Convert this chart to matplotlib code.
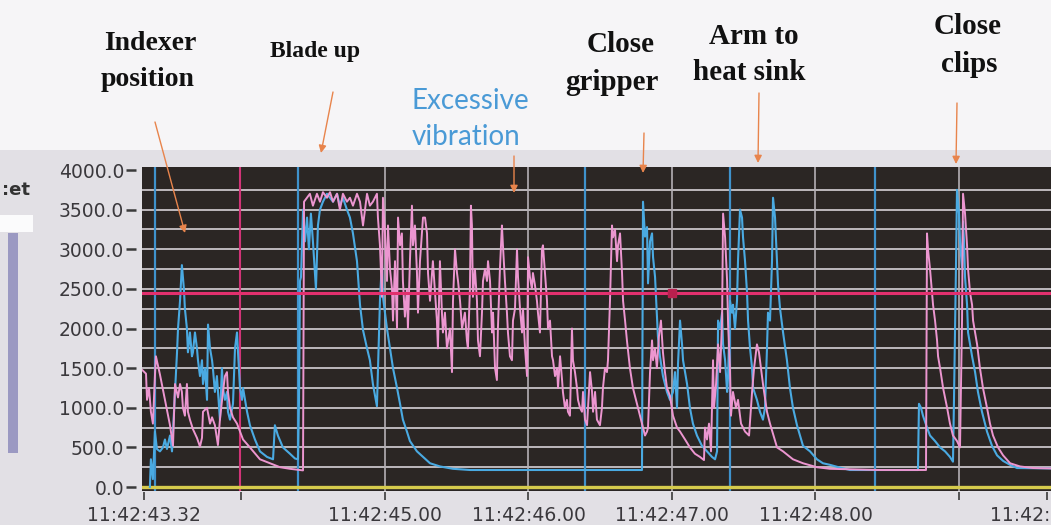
import numpy as np
import matplotlib
matplotlib.use("Agg")
import matplotlib.pyplot as plt
from matplotlib.patches import Rectangle

# pink trace (seconds after 11:42:00, value)
pink_t = [43.307, 43.335, 43.342, 43.356, 43.369, 43.383, 43.397, 43.404, 43.432, 43.467,
          43.502, 43.523, 43.537, 43.558, 43.572, 43.585, 43.592, 43.606, 43.620, 43.627,
          43.641, 43.662, 43.690, 43.711, 43.725, 43.732, 43.760, 43.781, 43.795, 43.815,
          43.836, 43.850, 43.871, 43.885, 43.899, 43.906, 43.920, 43.941, 43.969, 43.990,
          44.011, 44.059, 44.129, 44.199, 44.269, 44.338, 44.429, 44.436, 44.477, 44.498,
          44.526, 44.547, 44.568, 44.596, 44.617, 44.638, 44.666, 44.686, 44.707, 44.735,
          44.756, 44.777, 44.805, 44.826, 44.847, 44.875, 44.895, 44.916, 44.944, 44.951,
          44.965, 44.979, 44.986, 45.000, 45.014, 45.021, 45.035, 45.049, 45.056, 45.070,
          45.084, 45.091, 45.105, 45.118, 45.125, 45.139, 45.153, 45.160, 45.174, 45.188,
          45.195, 45.209, 45.223, 45.230, 45.244, 45.265, 45.279, 45.293, 45.300, 45.314,
          45.334, 45.362, 45.369, 45.383, 45.397, 45.404, 45.418, 45.432, 45.453, 45.467,
          45.474, 45.488, 45.502, 45.509, 45.523, 45.537, 45.557, 45.571, 45.578, 45.592,
          45.599, 45.606, 45.613, 45.627, 45.641, 45.648, 45.662, 45.676, 45.683, 45.697,
          45.711, 45.718, 45.732, 45.746, 45.753, 45.767, 45.780, 45.787, 45.801, 45.815,
          45.822, 45.836, 45.850, 45.857, 45.871, 45.885, 45.892, 45.906, 45.920, 45.927,
          45.941, 45.955, 45.962, 45.976, 45.990, 45.997, 46.010, 46.024, 46.031, 46.045,
          46.059, 46.066, 46.080, 46.094, 46.101, 46.115, 46.129, 46.136, 46.150, 46.164,
          46.171, 46.185, 46.199, 46.206, 46.220, 46.234, 46.240, 46.254, 46.268, 46.275,
          46.289, 46.303, 46.310, 46.324, 46.338, 46.345, 46.359, 46.373, 46.380, 46.394,
          46.408, 46.415, 46.429, 46.443, 46.450, 46.464, 46.477, 46.498, 46.512, 46.519,
          46.533, 46.547, 46.554, 46.568, 46.582, 46.589, 46.603, 46.617, 46.624, 46.638,
          46.652, 46.659, 46.673, 46.686, 46.707, 46.728, 46.756, 46.777, 46.798, 46.812,
          46.826, 46.833, 46.847, 46.861, 46.868, 46.882, 46.895, 46.909, 46.923, 46.937,
          46.951, 46.965, 46.986, 47.007, 47.035, 47.056, 47.091, 47.125, 47.160, 47.195,
          47.223, 47.230, 47.244, 47.258, 47.272, 47.286, 47.293, 47.307, 47.321, 47.335,
          47.349, 47.356, 47.370, 47.384, 47.391, 47.404, 47.411, 47.425, 47.446, 47.460,
          47.481, 47.509, 47.537, 47.558, 47.572, 47.592, 47.606, 47.620, 47.634, 47.662,
          47.683, 47.732, 47.774, 47.843, 47.913, 48.010, 48.101, 48.449, 48.770, 48.777,
          48.784, 48.798, 48.812, 48.819, 48.833, 48.847, 48.854, 48.868, 48.889, 48.917,
          48.937, 48.958, 48.986, 49.007, 49.021, 49.028, 49.042, 49.056, 49.063, 49.077,
          49.091, 49.098, 49.112, 49.126, 49.146, 49.167, 49.195, 49.216, 49.237, 49.272,
          49.307, 49.356, 49.425, 49.516, 49.641]
pink_v = [1480, 1430, 1100, 1250, 950, 800, 1400, 1650, 1420, 1100,
          780, 520, 1300, 1130, 1300, 1200, 1000, 900, 1300, 950,
          850, 730, 620, 510, 620, 950, 1000, 800, 880, 780,
          530, 850, 1200, 1400, 1450, 1200, 1000, 880, 800, 700,
          600, 500, 350, 300, 250, 230, 210, 3600, 3700, 3550,
          3700, 3600, 3720, 3650, 3720, 3600, 3700, 3500, 3700, 3600,
          3650, 3550, 3700, 3600, 3300, 3700, 3550, 3600, 3700, 3400,
          3050, 2400, 3650, 3200, 2600, 3300, 2750, 2500, 2100, 2850,
          2000, 3400, 3050, 3200, 2600, 2150, 2500, 2000, 2850, 3550,
          3050, 3300, 2700, 2200, 2850, 3400, 3400, 3200, 2700, 2350,
          2850, 2100, 1750, 2850, 2200, 1950, 2200, 1750, 2000, 1450,
          2350, 3000, 2700, 2600, 2350, 2000, 2200, 1850, 1750, 2500,
          3550, 3300, 2400, 2750, 2350, 1850, 1650, 2200, 2600, 2750,
          2600, 2850, 2600, 1950, 2200, 1500, 1350, 2000, 2750, 3300,
          3050, 2600, 2200, 1950, 1650, 1600, 2100, 2250, 3000, 2650,
          2250, 1950, 2250, 1750, 1400, 2900, 2650, 2500, 2700, 2550,
          2350, 2200, 1950, 3000, 3050, 2700, 2350, 2000, 2100, 1650,
          1600, 1400, 1500, 1250, 1650, 1350, 1200, 1000, 1100, 950,
          900, 2000, 1600, 1450, 1250, 1100, 1000, 950, 1200, 850,
          780, 1000, 1450, 1200, 950, 1200, 850, 780, 1000, 1250,
          1500, 1450, 1600, 2350, 3300, 3150, 3250, 2850, 3050, 3200,
          2700, 2350, 2100, 1850, 1500, 1250, 1050, 900, 750, 650,
          700, 750, 1450, 1850, 1600, 1750, 1500, 1900, 2100, 1700,
          1450, 1250, 1150, 900, 750, 700, 600, 500, 420, 380,
          340, 750, 600, 800, 450, 1600, 1000, 1300, 1800, 1450,
          2100, 3450, 3150, 2600, 2050, 1500, 900, 1200, 1000, 1100,
          800, 700, 650, 1200, 1500, 1800, 1700, 1500, 1300, 950,
          800, 500, 450, 350, 300, 250, 230, 215, 215, 3200,
          3000, 2750, 2450, 2300, 2100, 1850, 1650, 1500, 1250, 1000,
          800, 650, 580, 500, 2100, 3700, 3450, 3050, 2750, 2450,
          2300, 2100, 1950, 1800, 1500, 1250, 1000, 800, 650, 500,
          400, 300, 260, 240, 235]

# blue trace
blue_t = [43.362, 43.369, 43.383, 43.397, 43.411, 43.432, 43.453, 43.467, 43.481, 43.502,
          43.516, 43.537, 43.551, 43.558, 43.572, 43.585, 43.599, 43.606, 43.620, 43.627,
          43.641, 43.655, 43.662, 43.676, 43.690, 43.697, 43.711, 43.725, 43.732, 43.746,
          43.760, 43.767, 43.781, 43.795, 43.801, 43.815, 43.829, 43.850, 43.864, 43.871,
          43.885, 43.899, 43.906, 43.920, 43.941, 43.955, 43.969, 43.976, 43.990, 44.004,
          44.011, 44.039, 44.059, 44.094, 44.129, 44.178, 44.220, 44.233, 44.254, 44.289,
          44.338, 44.373, 44.394, 44.401, 44.408, 44.415, 44.429, 44.443, 44.457, 44.470,
          44.484, 44.498, 44.519, 44.533, 44.547, 44.568, 44.596, 44.617, 44.638, 44.666,
          44.686, 44.707, 44.735, 44.756, 44.777, 44.805, 44.826, 44.847, 44.875, 44.895,
          44.916, 44.944, 44.951, 44.965, 44.979, 44.986, 45.014, 45.035, 45.056, 45.084,
          45.105, 45.125, 45.153, 45.174, 45.223, 45.265, 45.314, 45.383, 45.474, 45.592,
          46.791, 46.798, 46.812, 46.826, 46.833, 46.847, 46.861, 46.868, 46.882, 46.895,
          46.902, 46.916, 46.937, 46.965, 46.986, 47.007, 47.021, 47.035, 47.042, 47.056,
          47.070, 47.077, 47.105, 47.125, 47.146, 47.174, 47.209, 47.244, 47.279, 47.300,
          47.314, 47.321, 47.335, 47.349, 47.356, 47.370, 47.384, 47.391, 47.404, 47.418,
          47.425, 47.439, 47.453, 47.460, 47.474, 47.488, 47.495, 47.509, 47.523, 47.530,
          47.544, 47.558, 47.565, 47.592, 47.613, 47.634, 47.648, 47.662, 47.669, 47.683,
          47.697, 47.704, 47.718, 47.732, 47.739, 47.753, 47.774, 47.801, 47.822, 47.843,
          47.871, 47.892, 47.913, 47.962, 48.010, 48.052, 48.101, 48.171, 48.240, 48.714,
          48.721, 48.735, 48.749, 48.777, 48.798, 48.833, 48.868, 48.903, 48.937, 48.958,
          48.965, 48.979, 48.986, 49.000, 49.007, 49.021, 49.028, 49.035, 49.042, 49.056,
          49.063, 49.077, 49.091, 49.112, 49.132, 49.160, 49.195, 49.230, 49.265, 49.307,
          49.356, 49.404, 49.641]
blue_v = [0, 350, 100, 700, 480, 450, 500, 600, 480, 650,
          450, 1200, 1700, 2000, 2350, 2800, 2500, 2250, 2000, 1700,
          1950, 1650, 1700, 1950, 1750, 1600, 1400, 1600, 1300, 1500,
          1100, 2050, 1750, 1600, 1500, 1200, 1400, 850, 1500, 1250,
          1100, 1200, 950, 850, 1050, 1750, 1950, 1700, 1250, 1100,
          1250, 950, 780, 600, 450, 380, 350, 780, 650, 500,
          420, 360, 350, 1100, 2600, 2650, 3500, 3100, 3400, 3000,
          3450, 3100, 2500, 3300, 3500, 3600, 3700, 3650, 3600, 3700,
          3550, 3650, 3500, 3400, 3200, 2850, 2300, 1980, 1750, 1600,
          1300, 1020, 1450, 2350, 2850, 2400, 2000, 1750, 1500, 1250,
          1050, 850, 700, 580, 450, 380, 300, 260, 230, 215,
          215, 3600, 3160, 3280, 2570, 3100, 3200, 2900, 2650, 2150,
          1900, 1650, 1400, 1200, 1100, 1200, 1450, 1000, 1550, 2100,
          1800, 1600, 1300, 1000, 800, 650, 520, 450, 380, 350,
          450, 2100, 2000, 2200, 1800, 1600, 1200, 1400, 2350, 2200,
          2300, 2000, 2350, 2850, 3500, 3400, 3150, 2850, 2450, 2100,
          1750, 1500, 1250, 1100, 950, 850, 1000, 1750, 2200, 2100,
          2850, 3650, 3400, 2850, 2550, 2250, 1950, 1600, 1250, 1000,
          780, 650, 520, 450, 350, 300, 280, 245, 215, 215,
          1050, 1000, 900, 750, 650, 580, 500, 450, 380, 320,
          1100, 2800, 3750, 3450, 3100, 2750, 3350, 3100, 2650, 2300,
          1950, 1800, 1650, 1450, 1200, 950, 700, 520, 400, 330,
          280, 240, 235]

limit_value = 2450
cursor_time = 47.0
event_times = [43.397, 44.394, 46.394, 47.404, 48.415]
start_time = 43.99
second_times = [45, 46, 47, 48, 49]
tick_times = [43.32, 44.0, 45, 46, 47, 48, 49, 49.61]
tick_labels = ["11:42:43.32", "", "11:42:45.00", "11:42:46.00", "11:42:47.00",
               "11:42:48.00", "", "11:42:49.61"]
y_ticks = [0, 500, 1000, 1500, 2000, 2500, 3000, 3500, 4000]
y_grid = [250, 500, 750, 1000, 1250, 1500, 1750, 2000, 2250, 2500, 2750, 3000, 3250, 3500, 3750]

notes = [["Indexer", "position"], ["Blade up"], ["Close", "gripper"],
         ["Arm to", "heat sink"], ["Close", "clips"]]

W, H = 1051, 525
fig = plt.figure(figsize=(W / 100, H / 100), dpi=100)
fig.patch.set_facecolor("#f6f5f7")
fig.add_artist(Rectangle((0, 0), 1, 1 - 150 / H, transform=fig.transFigure,
                         facecolor="#e2e0e5", edgecolor="none", zorder=0))
# left widget bits
fig.add_artist(Rectangle((0, 1 - 232 / H), 33 / W, 17 / H, transform=fig.transFigure,
                         facecolor="#fbfbfc", edgecolor="none", zorder=1))
fig.add_artist(Rectangle((8 / W, 1 - 453 / H), 10 / W, 220 / H, transform=fig.transFigure,
                         facecolor="#9b99c2", edgecolor="none", zorder=1))
fig.text(2 / W, 1 - 190 / H, ":et", fontsize=13, fontweight="bold", color="#333333",
         ha="left", va="center", family="DejaVu Sans")

ax = fig.add_axes([142 / W, 1 - 491 / H, (W - 142) / W, (491 - 167) / H])
ax.set_facecolor("#2b2624")
ax.set_xlim(43.307, 49.641)
ax.set_ylim(-50, 4038)

for v in y_grid:
    ax.axhline(v, color="#bdb8bd", lw=1.4, zorder=1)
for t in second_times:
    ax.axvline(t, color="#b5b0b5", lw=1.2, zorder=1)
for t in event_times:
    ax.axvline(t, color="#3f92cc", lw=1.6, zorder=2)
ax.axvline(start_time, color="#d23478", lw=1.5, zorder=2)
ax.axhline(0, color="#d6cb4c", lw=2.4, zorder=2)

ax.plot(blue_t, blue_v, color="#4aaae2", lw=1.5, zorder=3)
ax.plot(pink_t, pink_v, color="#ec96d0", lw=1.4, zorder=4)
ax.axhline(limit_value, color="#e2306e", lw=2.2, zorder=5)
ax.plot([cursor_time], [limit_value], "s", ms=6, color="#b8204e", zorder=6)

for s in ax.spines.values():
    s.set_visible(False)
ax.spines["left"].set_position(("outward", 4))
ax.spines["bottom"].set_position(("outward", 1))
ax.set_yticks(y_ticks)
ax.set_yticklabels([f"{v:.1f}" for v in y_ticks])
ax.set_xticks(tick_times)
ax.set_xticklabels(tick_labels)
ax.tick_params(axis="y", length=7, width=1.8, color="#3a3a3a", pad=2,
               labelsize=13.5, labelcolor="#3a383c")
ax.tick_params(axis="x", length=6, width=1.2, color="#3a3a3a", pad=4,
               labelsize=13.5, labelcolor="#3a383c")

# annotation text
serif = dict(family="Liberation Serif", fontweight="bold", color="#111111",
             ha="center", va="center")
lines_xy = [[(150, 44), (148, 80)], [(315, 52)], [(621, 45), (612, 83)],
            [(754, 37), (749, 72)], [(968, 26), (969, 64)]]
sizes = [20, 17, 21, 21, 21]
for note, pos, fs in zip(notes, lines_xy, sizes):
    for txt, (x, y) in zip(note, pos):
        fig.text(x / W, 1 - y / H, txt, fontsize=fs, **serif)

fig.text(470 / W, 1 - 101 / H, "Excessive", fontsize=20, color="#4a9ad6",
         family="Lato", ha="center", va="center")
fig.text(466 / W, 1 - 137 / H, "vibration", fontsize=20, color="#4a9ad6",
         family="Lato", ha="center", va="center")

arrows = [((155, 122), (185, 233)), ((333, 92), (321, 153)), ((514, 156), (514, 193)),
          ((644, 133), (643, 173)), ((759, 93), (758, 163)), ((957, 103), (956, 164))]
for (x0, y0), (x1, y1) in arrows:
    fig.add_artist(plt.Annotation("", xy=(x1 / W, 1 - y1 / H), xytext=(x0 / W, 1 - y0 / H),
                                  xycoords="figure fraction", textcoords="figure fraction",
                                  arrowprops=dict(arrowstyle="-|>", color="#e8844c", lw=1.0,
                                                  mutation_scale=11, shrinkA=0, shrinkB=0)))

fig.savefig("out.png", dpi=100, facecolor=fig.get_facecolor())
